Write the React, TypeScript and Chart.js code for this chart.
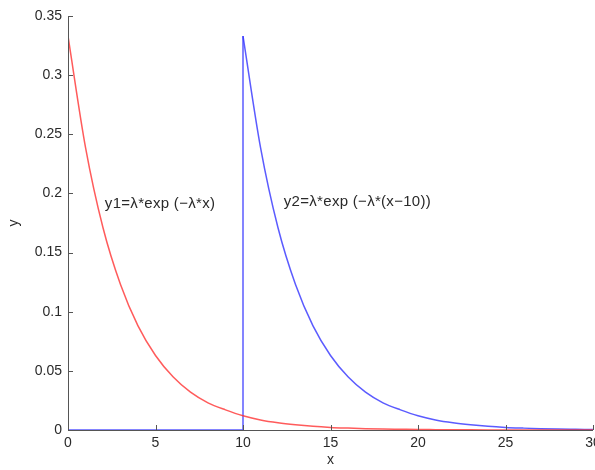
import React, { useEffect, useRef } from "react";
import { Chart, registerables } from "chart.js";

Chart.register(...registerables);

// Data
const xValues = [0, 1, 2, 3, 4, 5, 6, 7, 8, 9, 10, 11, 12, 13, 14, 15, 16, 17, 18, 19, 20, 21, 22, 23, 24, 25, 26, 27, 28, 29, 30];
const y1Values = [0.333, 0.239, 0.171, 0.123, 0.088, 0.063, 0.045, 0.032, 0.023, 0.017, 0.012, 0.0085, 0.0061, 0.0044, 0.0031, 0.0022, 0.0016, 0.0011, 0.0008, 0.0006, 0.0004, 0.0003, 0.0002, 0.00015, 0.0001, 0.00008, 0.00006, 0.00004, 0.00003, 0.00002, 0.00002];
const y2StepX = [0, 10, 10];
const y2StepY = [0, 0, 0.333];
const y2DecayX = [10, 11, 12, 13, 14, 15, 16, 17, 18, 19, 20, 21, 22, 23, 24, 25, 26, 27, 28, 29, 30];
const y2DecayY = [0.333, 0.239, 0.171, 0.123, 0.088, 0.063, 0.045, 0.032, 0.023, 0.017, 0.012, 0.0085, 0.0061, 0.0044, 0.0031, 0.0022, 0.0016, 0.0011, 0.0008, 0.0006, 0.0004];
const xTicks = [0, 5, 10, 15, 20, 25, 30];
const yTicks = [0, 0.05, 0.1, 0.15, 0.2, 0.25, 0.3, 0.35];
const label1 = "y1=λ*exp (−λ*x)";
const label1Pos = { x: 5.26, y: 0.191 };
const label2 = "y2=λ*exp (−λ*(x−10))";
const label2Pos = { x: 16.54, y: 0.1927 };

const RED = "rgba(255,50,50,0.8)";
const BLUE = "rgba(50,50,255,0.8)";
const TXT = "#2a2a2a";

const pts = (xs: number[], ys: number[]) => xs.map((x, i) => ({ x, y: ys[i] }));

const axesPlugin = {
  id: "matlabAxes",
  afterDatasetsDraw(chart: any) {
    const { ctx, chartArea, scales } = chart;
    const xs = scales.x;
    const ys = scales.y;
    ctx.save();
    ctx.strokeStyle = "#555";
    ctx.lineWidth = 1;
    ctx.beginPath();
    ctx.moveTo(chartArea.left + 0.5, chartArea.top);
    ctx.lineTo(chartArea.left + 0.5, chartArea.bottom + 0.5);
    ctx.lineTo(chartArea.right, chartArea.bottom + 0.5);
    ctx.stroke();
    ctx.beginPath();
    xTicks.forEach((v) => {
      const px = Math.round(xs.getPixelForValue(v)) + 0.5;
      ctx.moveTo(px, chartArea.bottom);
      ctx.lineTo(px, chartArea.bottom - 5);
    });
    yTicks.forEach((v) => {
      const py = Math.round(ys.getPixelForValue(v)) + 0.5;
      ctx.moveTo(chartArea.left, py);
      ctx.lineTo(chartArea.left + 5, py);
    });
    ctx.stroke();
    ctx.fillStyle = TXT;
    ctx.font = "15px 'Liberation Sans', Arial, sans-serif";
    try {
      (ctx as any).letterSpacing = "0.3px";
    } catch (e) {}
    ctx.textAlign = "center";
    ctx.textBaseline = "middle";
    ctx.fillText(label1, xs.getPixelForValue(label1Pos.x), ys.getPixelForValue(label1Pos.y));
    ctx.fillText(label2, xs.getPixelForValue(label2Pos.x), ys.getPixelForValue(label2Pos.y));
    ctx.restore();
  },
};

export default function App() {
  const ref = useRef<HTMLCanvasElement | null>(null);
  useEffect(() => {
    if (!ref.current) return;
    const font = { family: "'Liberation Sans', Arial, sans-serif", size: 14 };
    const chart = new Chart(ref.current, {
      type: "scatter",
      data: {
        datasets: [
          {
            data: pts(xValues, y1Values),
            showLine: true,
            borderColor: RED,
            borderWidth: 1.5,
            pointRadius: 0,
            cubicInterpolationMode: "monotone",
          },
          {
            data: pts(y2StepX, y2StepY),
            showLine: true,
            borderColor: BLUE,
            borderWidth: 1.5,
            pointRadius: 0,
            tension: 0,
          },
          {
            data: pts(y2DecayX, y2DecayY),
            showLine: true,
            borderColor: BLUE,
            borderWidth: 1.5,
            pointRadius: 0,
            cubicInterpolationMode: "monotone",
          },
        ],
      } as any,
      options: {
        animation: false,
        responsive: false,
        maintainAspectRatio: false,
        layout: { padding: { top: 16, right: 22, left: 0, bottom: 0 } },
        plugins: { legend: { display: false }, tooltip: { enabled: false } },
        scales: {
          x: {
            type: "linear",
            min: 0,
            max: 30,
            grid: { display: false, drawTicks: false },
            border: { display: false },
            afterBuildTicks: (s: any) => {
              s.ticks = xTicks.map((v) => ({ value: v }));
            },
            afterFit: (s: any) => {
              s.height = 40;
            },
            ticks: { color: TXT, font, padding: 5, maxRotation: 0, autoSkip: false },
            title: { display: true, text: "x", color: TXT, font, padding: { top: 0, bottom: 1 } },
          },
          y: {
            type: "linear",
            min: 0,
            max: 0.35,
            grid: { display: false, drawTicks: false },
            border: { display: false },
            afterBuildTicks: (s: any) => {
              s.ticks = yTicks.map((v) => ({ value: v }));
            },
            afterFit: (s: any) => {
              s.width = 68;
            },
            ticks: {
              color: TXT,
              font,
              padding: 6,
              autoSkip: false,
              callback: (v: any) => String(Number(Number(v).toFixed(2))),
            },
            title: { display: true, text: "y", color: TXT, font, padding: { top: 6, bottom: 0 } },
          },
        },
      } as any,
      plugins: [axesPlugin],
    });
    return () => chart.destroy();
  }, []);
  return (
    <div style={{ position: "fixed", left: 0, top: 0, width: 595, height: 470, overflow: "hidden", background: "#fff" }}>
      <canvas ref={ref} width={615} height={470} style={{ display: "block" }} />
    </div>
  );
}
